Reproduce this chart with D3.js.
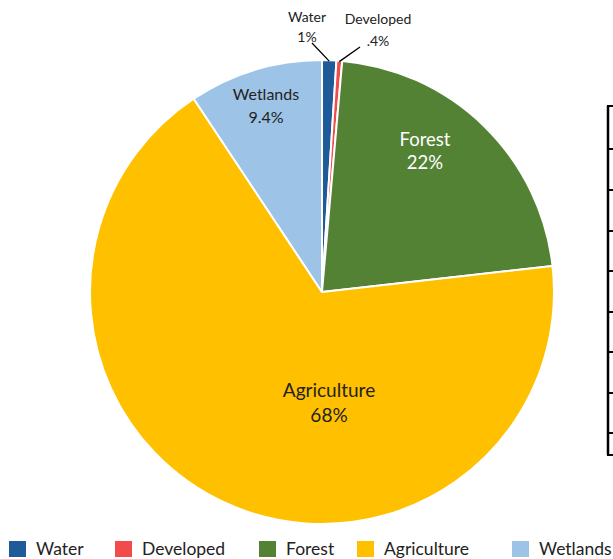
<!DOCTYPE html>
<html>
<head>
<meta charset="utf-8">
<script src="https://cdn.jsdelivr.net/npm/d3@7/dist/d3.min.js"></script>
<style>
  html, body { margin: 0; padding: 0; background: #fff; }
  svg { display: block; font-family: Lato, "Open Sans", sans-serif; }
</style>
</head>
<body>
<svg id="chart" width="613" height="559"></svg>
<script>
// Land cover shares (percent), clockwise from 12 o'clock
const categories = ["Water", "Developed", "Forest", "Agriculture", "Wetlands"];
const shares = [1, 0.4, 22, 68, 9.4];
const shareLabels = ["1%", ".4%", "22%", "68%", "9.4%"];
const colors = ["#1f5a99", "#f24b4b", "#548235", "#ffc000", "#9dc3e6"];

const svg = d3.select("#chart");
const cx = 322, cy = 292, radius = 232;

const data = categories.map((c, i) => ({ name: c, value: shares[i], label: shareLabels[i], color: colors[i] }));

const pie = d3.pie().value(d => d.value).sort(null);
const arcs = pie(data);
const arc = d3.arc().innerRadius(0).outerRadius(radius);

const g = svg.append("g").attr("transform", `translate(${cx},${cy})`);

g.selectAll("path.slice")
  .data(arcs)
  .join("path")
  .attr("class", "slice")
  .attr("d", arc)
  .attr("fill", d => d.data.color)
  .attr("stroke", "#fff")
  .attr("stroke-width", 2)
  .attr("stroke-linejoin", "round");

// Inside labels: offset from centre of first baseline, gap to second line
const labelPlace = {
  Wetlands:    { x: -56, y: -192.5, gap: 23.5, size: 16,   fill: "#222" },
  Forest:      { x: 103, y: -146,   gap: 23,   size: 18.5, fill: "#fff" },
  Agriculture: { x: 7,   y: 105,    gap: 24.5, size: 19,   fill: "#222" }
};

arcs.forEach(a => {
  const p = labelPlace[a.data.name];
  if (!p) return;
  const txt = g.append("text")
    .attr("text-anchor", "middle")
    .attr("font-size", p.size)
    .attr("fill", p.fill);
  txt.append("tspan").attr("x", p.x).attr("y", p.y).text(a.data.name);
  txt.append("tspan").attr("x", p.x).attr("y", p.y + p.gap).text(a.data.label);
});

// Small slices: outside labels with leader lines
const outside = {
  Water:     { lx: -10, ly: -249, tx: -15, ty: -270, gap: 20 },
  Developed: { lx: 38,  ly: -245, tx: 56,  ty: -268, gap: 22 }
};
arcs.forEach(a => {
  const p = outside[a.data.name];
  if (!p) return;
  const mid = (a.startAngle + a.endAngle) / 2;
  const ex = Math.sin(mid) * (radius - 1), ey = -Math.cos(mid) * (radius - 1);
  g.append("line")
    .attr("x1", p.lx).attr("y1", p.ly)
    .attr("x2", ex).attr("y2", ey)
    .attr("stroke", "#000").attr("stroke-width", 1.3);
  const txt = g.append("text")
    .attr("text-anchor", "middle")
    .attr("font-size", 14)
    .attr("fill", "#222");
  txt.append("tspan").attr("x", p.tx).attr("y", p.ty).text(a.data.name);
  txt.append("tspan").attr("x", p.tx).attr("y", p.ty + p.gap).text(a.data.label);
});

// Legend along the bottom
const legendX = [9, 115, 259, 357, 512];
const legend = svg.append("g").attr("transform", "translate(0,549)");
data.forEach((d, i) => {
  const item = legend.append("g").attr("transform", `translate(${legendX[i]},0)`);
  item.append("rect")
    .attr("x", 0).attr("y", -8)
    .attr("width", 17).attr("height", 16)
    .attr("fill", d.color);
  item.append("text")
    .attr("x", 27).attr("y", 6)
    .attr("font-size", 17.5)
    .attr("fill", "#222")
    .text(d.name);
});

// Edge of the adjoining table (left border and row rules)
const tableRows = [106, 149, 190, 231, 271, 312, 352, 393, 433, 455];
const table = svg.append("g");
table.append("line")
  .attr("x1", 608).attr("x2", 608)
  .attr("y1", tableRows[0]).attr("y2", tableRows[tableRows.length - 1])
  .attr("stroke", "#000").attr("stroke-width", 2.5);
table.selectAll("line.row")
  .data(tableRows)
  .join("line")
  .attr("class", "row")
  .attr("x1", 607).attr("x2", 613)
  .attr("y1", d => d).attr("y2", d => d)
  .attr("stroke", "#000").attr("stroke-width", 2);
</script>
</body>
</html>
